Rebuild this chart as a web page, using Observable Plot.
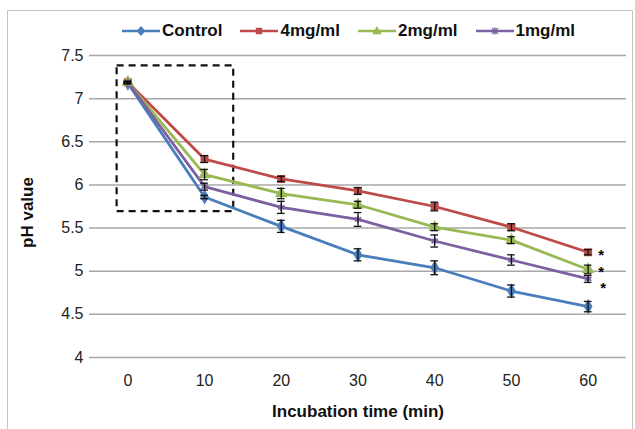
<!DOCTYPE html>
<html>
<head>
<meta charset="utf-8">
<script src="https://cdn.jsdelivr.net/npm/d3@7"></script>
<script src="https://cdn.jsdelivr.net/npm/@observablehq/plot@0.6"></script>
<style>
  html, body { margin: 0; padding: 0; background: #fff; }
  #wrap { position: relative; width: 635px; height: 429px; overflow: hidden; font-family: "Liberation Sans", Arial, sans-serif; }
  #frame { position: absolute; left: 7px; top: 10px; width: 624px; height: 440px; border: 1.5px solid #c4c4c4; border-bottom: none; pointer-events: none; z-index: 3; }
  #legend { position: absolute; left: 122px; top: 21px; display: flex; align-items: center; gap: 18px; z-index: 2; }
  .item { display: flex; align-items: center; gap: 2px; font-weight: bold; font-size: 17px; color: #111; }
  #chart { position: absolute; left: 0; top: 0; }
</style>
</head>
<body>
<div id="wrap">
  <div id="chart"></div>
  <div id="legend"></div>
  <div id="frame"></div>
</div>
<script>
// ---- data ----
const times = [0, 10, 20, 30, 40, 50, 60];
const seriesNames = ["Control", "4mg/ml", "2mg/ml", "1mg/ml"];
const seriesColors = ["#4a7ebb", "#be4b48", "#98b954", "#7d60a0"];
const seriesSymbols = ["diamond", "square", "triangle", "asterisk"];

const controlValues = [7.18, 5.86, 5.52, 5.19, 5.04, 4.77, 4.59];
const mg4Values     = [7.19, 6.30, 6.07, 5.93, 5.75, 5.51, 5.22];
const mg2Values     = [7.19, 6.12, 5.90, 5.77, 5.51, 5.36, 5.02];
const mg1Values     = [7.19, 5.98, 5.74, 5.60, 5.35, 5.13, 4.91];

const controlErr = [0.01, 0.02, 0.07, 0.07, 0.08, 0.07, 0.06];
const mg4Err     = [0.01, 0.04, 0.03, 0.04, 0.05, 0.04, 0.03];
const mg2Err     = [0.01, 0.06, 0.06, 0.04, 0.04, 0.04, 0.05];
const mg1Err     = [0.01, 0.04, 0.07, 0.08, 0.07, 0.06, 0.04];

const yTicks = [4, 4.5, 5, 5.5, 6, 6.5, 7, 7.5];
const xTitle = "Incubation time (min)";
const yTitle = "pH value";

// significance markers at 60 min
const sigSeries = ["4mg/ml", "2mg/ml", "1mg/ml"];
const sigLabel = "*";

// dashed highlight box (time, pH extents)
const boxTime = [-1.4, 13.8];
const boxPH = [5.69, 7.38];

// ---- build table ----
const valueLists = [controlValues, mg4Values, mg2Values, mg1Values];
const errLists = [controlErr, mg4Err, mg2Err, mg1Err];
const data = [];
seriesNames.forEach((s, i) => {
  times.forEach((t, j) => {
    data.push({series: s, time: t, value: valueLists[i][j], err: errLists[i][j]});
  });
});
const lastTime = times[times.length - 1];
const sigUpper = data.filter(d => d.time === lastTime && sigSeries.slice(0, 2).includes(d.series));
const sigLower = data.filter(d => d.time === lastTime && d.series === sigSeries[2]);
const capHalf = 0.5;
const yMid = (yTicks[0] + yTicks[yTicks.length - 1]) / 2;

const chart = Plot.plot({
  width: 635,
  height: 429,
  marginTop: 55,
  marginBottom: 72,
  marginLeft: 89,
  marginRight: 9,
  style: {background: "transparent", fontFamily: "'Liberation Sans', Arial, sans-serif"},
  x: {type: "linear", domain: [-5, 65], axis: null},
  y: {domain: [4, 7.5], axis: null},
  color: {domain: seriesNames, range: seriesColors},
  symbol: {domain: seriesNames, range: seriesSymbols},
  marks: [
    Plot.ruleY(yTicks, {y: d => d, stroke: "#a8a8a8", strokeWidth: 1.5}),
    Plot.text(yTicks, {y: d => d, frameAnchor: "left", dx: -6, textAnchor: "end", text: d => String(d), fontSize: 16, fill: "#222"}),
    Plot.text(times, {x: d => d, frameAnchor: "bottom", dy: 23, lineAnchor: "middle", text: d => String(d), fontSize: 16, fill: "#222"}),
    Plot.text([xTitle], {frameAnchor: "bottom", dy: 54, lineAnchor: "middle", text: d => d, fontSize: 17, fontWeight: "bold", fill: "#111"}),
    Plot.text([yTitle], {x: () => -5, y: () => yMid, dx: -62, dy: 6, rotate: -90, textAnchor: "middle", lineAnchor: "middle", text: d => d, fontSize: 17, fontWeight: "bold", fill: "#111"}),
    Plot.rect([{x1: boxTime[0], x2: boxTime[1], y1: boxPH[0], y2: boxPH[1]}], {x1: "x1", x2: "x2", y1: "y1", y2: "y2", fill: "none", stroke: "#111", strokeWidth: 2.2, strokeDasharray: "7,5"}),
    Plot.line(data, {x: "time", y: "value", z: "series", stroke: "series", strokeWidth: 2.8}),
    Plot.dot(data, {x: "time", y: "value", symbol: "series", fill: "series", stroke: "series", strokeWidth: 1.8, r: 3.5}),
    Plot.ruleX(data, {x: "time", y1: d => d.value - d.err, y2: d => d.value + d.err, stroke: "#111", strokeWidth: 1.3}),
    Plot.ruleY(data, {y: d => d.value - d.err, x1: d => d.time - capHalf, x2: d => d.time + capHalf, stroke: "#111", strokeWidth: 1.3}),
    Plot.ruleY(data, {y: d => d.value + d.err, x1: d => d.time - capHalf, x2: d => d.time + capHalf, stroke: "#111", strokeWidth: 1.3}),
    Plot.text(sigUpper, {x: "time", y: "value", text: () => sigLabel, dx: 10, dy: 3, textAnchor: "start", lineAnchor: "middle", fontSize: 15, fontWeight: "bold", fill: "#000"}),
    Plot.text(sigLower, {x: "time", y: "value", text: () => sigLabel, dx: 12, dy: 9, textAnchor: "start", lineAnchor: "middle", fontSize: 15, fontWeight: "bold", fill: "#000"})
  ]
});
document.getElementById("chart").appendChild(chart);

// ---- legend ----
const legend = document.getElementById("legend");
const symPaths = {
  diamond: "M19,4 L22.5,8 L19,12 L15.5,8 Z",
  square: "M16.5,5.5 H21.5 V10.5 H16.5 Z",
  triangle: "M19,4.5 L22.5,10.5 H15.5 Z",
  asterisk: "M16,5 L22,11 M22,5 L16,11 M19,4.5 V11.5"
};
seriesNames.forEach((s, i) => {
  const item = document.createElement("div");
  item.className = "item";
  const sym = seriesSymbols[i];
  const filled = sym !== "asterisk";
  item.innerHTML = `<svg width="38" height="16"><line x1="0" y1="8" x2="38" y2="8" stroke="${seriesColors[i]}" stroke-width="2.6"/><path d="${symPaths[sym]}" fill="${filled ? seriesColors[i] : "none"}" stroke="${seriesColors[i]}" stroke-width="1.4"/></svg><span>${s}</span>`;
  legend.appendChild(item);
});
</script>
</body>
</html>
